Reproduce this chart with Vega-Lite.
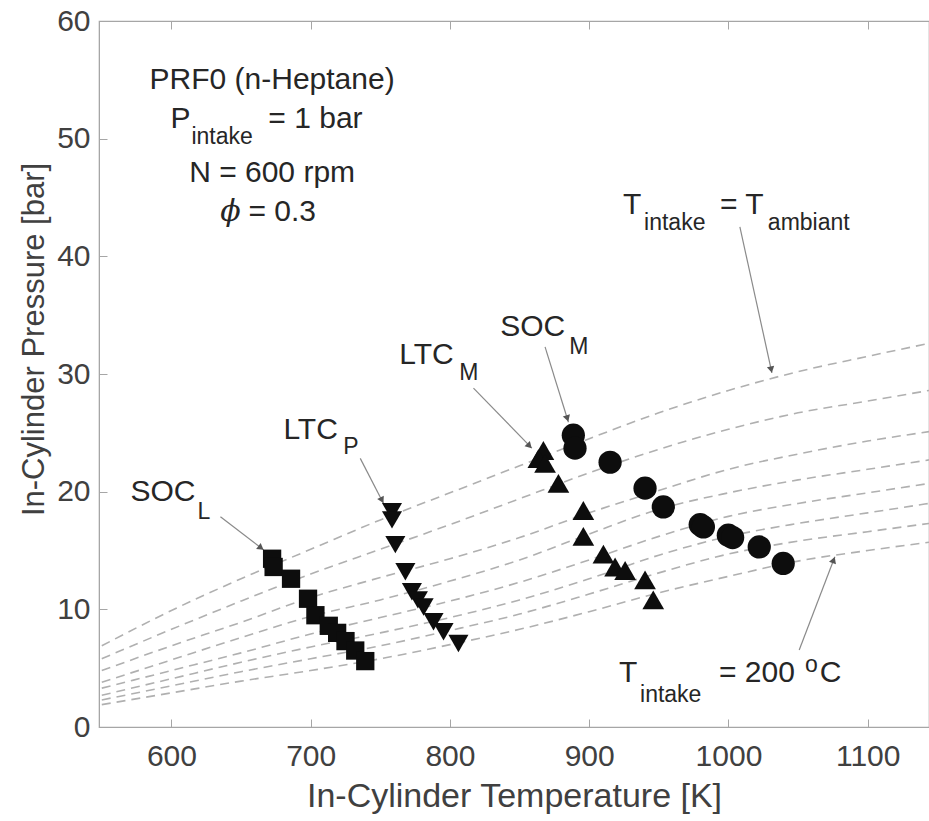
{
  "$schema": "https://vega.github.io/schema/vega-lite/v6.json",
  "width": 830,
  "height": 706,
  "autosize": {"type": "none"},
  "padding": {"left": 99, "top": 21, "right": 0, "bottom": 94},
  "background": "white",
  "config": {
    "font": "Liberation Sans",
    "view": {"stroke": "#a6a6a6", "strokeWidth": 1.2},
    "axis": {
      "grid": false,
      "domainColor": "#a6a6a6",
      "tickColor": "#a6a6a6",
      "labelColor": "#404040",
      "titleColor": "#404040",
      "labelFont": "Liberation Sans",
      "titleFont": "Liberation Sans",
      "titleFontWeight": "normal",
      "labelFontSize": 30,
      "titleFontSize": 32
    }
  },
  "datasets": {
    "curves": [
      {"c": 1, "T": 550, "P": 6.9}, {"c": 1, "T": 600, "P": 9.9}, {"c": 1, "T": 650, "P": 12.6}, {"c": 1, "T": 700, "P": 15.1}, {"c": 1, "T": 750, "P": 17.6}, {"c": 1, "T": 800, "P": 19.9}, {"c": 1, "T": 850, "P": 22.2}, {"c": 1, "T": 900, "P": 24.5}, {"c": 1, "T": 950, "P": 26.7}, {"c": 1, "T": 1000, "P": 28.6}, {"c": 1, "T": 1050, "P": 30.2}, {"c": 1, "T": 1100, "P": 31.5}, {"c": 1, "T": 1144, "P": 32.6},
      {"c": 2, "T": 550, "P": 5.8}, {"c": 2, "T": 600, "P": 8.3}, {"c": 2, "T": 650, "P": 10.7}, {"c": 2, "T": 700, "P": 13.0}, {"c": 2, "T": 750, "P": 15.1}, {"c": 2, "T": 800, "P": 17.2}, {"c": 2, "T": 850, "P": 19.4}, {"c": 2, "T": 900, "P": 21.6}, {"c": 2, "T": 950, "P": 23.6}, {"c": 2, "T": 1000, "P": 25.3}, {"c": 2, "T": 1050, "P": 26.7}, {"c": 2, "T": 1100, "P": 27.7}, {"c": 2, "T": 1144, "P": 28.6},
      {"c": 3, "T": 550, "P": 4.8}, {"c": 3, "T": 600, "P": 6.9}, {"c": 3, "T": 650, "P": 8.9}, {"c": 3, "T": 700, "P": 11.0}, {"c": 3, "T": 750, "P": 12.7}, {"c": 3, "T": 800, "P": 14.3}, {"c": 3, "T": 850, "P": 16.1}, {"c": 3, "T": 900, "P": 18.2}, {"c": 3, "T": 950, "P": 20.1}, {"c": 3, "T": 1000, "P": 21.9}, {"c": 3, "T": 1050, "P": 23.2}, {"c": 3, "T": 1100, "P": 24.3}, {"c": 3, "T": 1144, "P": 25.1},
      {"c": 4, "T": 550, "P": 3.8}, {"c": 4, "T": 600, "P": 5.7}, {"c": 4, "T": 650, "P": 7.6}, {"c": 4, "T": 700, "P": 9.4}, {"c": 4, "T": 750, "P": 10.8}, {"c": 4, "T": 800, "P": 12.4}, {"c": 4, "T": 850, "P": 14.2}, {"c": 4, "T": 900, "P": 16.4}, {"c": 4, "T": 950, "P": 18.5}, {"c": 4, "T": 1000, "P": 19.9}, {"c": 4, "T": 1050, "P": 21.0}, {"c": 4, "T": 1100, "P": 21.9}, {"c": 4, "T": 1144, "P": 22.7},
      {"c": 5, "T": 550, "P": 3.3}, {"c": 5, "T": 600, "P": 4.8}, {"c": 5, "T": 650, "P": 6.3}, {"c": 5, "T": 700, "P": 7.9}, {"c": 5, "T": 750, "P": 9.3}, {"c": 5, "T": 800, "P": 10.7}, {"c": 5, "T": 850, "P": 12.3}, {"c": 5, "T": 900, "P": 14.2}, {"c": 5, "T": 950, "P": 16.2}, {"c": 5, "T": 1000, "P": 17.9}, {"c": 5, "T": 1050, "P": 19.0}, {"c": 5, "T": 1100, "P": 19.9}, {"c": 5, "T": 1144, "P": 20.7},
      {"c": 6, "T": 550, "P": 2.7}, {"c": 6, "T": 600, "P": 4.1}, {"c": 6, "T": 650, "P": 5.5}, {"c": 6, "T": 700, "P": 6.8}, {"c": 6, "T": 750, "P": 8.0}, {"c": 6, "T": 800, "P": 9.3}, {"c": 6, "T": 850, "P": 10.8}, {"c": 6, "T": 900, "P": 12.6}, {"c": 6, "T": 950, "P": 14.6}, {"c": 6, "T": 1000, "P": 16.2}, {"c": 6, "T": 1050, "P": 17.3}, {"c": 6, "T": 1100, "P": 18.2}, {"c": 6, "T": 1144, "P": 19.0},
      {"c": 7, "T": 550, "P": 2.3}, {"c": 7, "T": 600, "P": 3.5}, {"c": 7, "T": 650, "P": 4.7}, {"c": 7, "T": 700, "P": 5.8}, {"c": 7, "T": 750, "P": 6.9}, {"c": 7, "T": 800, "P": 8.2}, {"c": 7, "T": 850, "P": 9.6}, {"c": 7, "T": 900, "P": 11.3}, {"c": 7, "T": 950, "P": 13.1}, {"c": 7, "T": 1000, "P": 14.7}, {"c": 7, "T": 1050, "P": 15.8}, {"c": 7, "T": 1100, "P": 16.6}, {"c": 7, "T": 1144, "P": 17.3},
      {"c": 8, "T": 550, "P": 1.9}, {"c": 8, "T": 600, "P": 2.9}, {"c": 8, "T": 650, "P": 3.9}, {"c": 8, "T": 700, "P": 4.8}, {"c": 8, "T": 750, "P": 5.8}, {"c": 8, "T": 800, "P": 7.0}, {"c": 8, "T": 850, "P": 8.3}, {"c": 8, "T": 900, "P": 9.8}, {"c": 8, "T": 950, "P": 11.4}, {"c": 8, "T": 1000, "P": 12.8}, {"c": 8, "T": 1050, "P": 14.1}, {"c": 8, "T": 1100, "P": 15.0}, {"c": 8, "T": 1144, "P": 15.7}
    ],
    "points": [
      {"g": "SOC_L", "T": 672.3, "P": 14.3}, {"g": "SOC_L", "T": 673.4, "P": 13.6}, {"g": "SOC_L", "T": 685.9, "P": 12.6}, {"g": "SOC_L", "T": 698.1, "P": 10.9}, {"g": "SOC_L", "T": 703.4, "P": 9.5}, {"g": "SOC_L", "T": 713.0, "P": 8.6}, {"g": "SOC_L", "T": 719.0, "P": 8.0}, {"g": "SOC_L", "T": 725.0, "P": 7.3}, {"g": "SOC_L", "T": 732.0, "P": 6.5}, {"g": "SOC_L", "T": 739.2, "P": 5.6},
      {"g": "LTC_P", "T": 758.4, "P": 18.3}, {"g": "LTC_P", "T": 758.4, "P": 17.6}, {"g": "LTC_P", "T": 760.8, "P": 15.5}, {"g": "LTC_P", "T": 768.0, "P": 13.2}, {"g": "LTC_P", "T": 772.7, "P": 11.5}, {"g": "LTC_P", "T": 777.0, "P": 10.8}, {"g": "LTC_P", "T": 781.1, "P": 10.2}, {"g": "LTC_P", "T": 788.2, "P": 8.95}, {"g": "LTC_P", "T": 795.4, "P": 8.1}, {"g": "LTC_P", "T": 806.1, "P": 7.1},
      {"g": "LTC_M", "T": 867.1, "P": 23.5}, {"g": "LTC_M", "T": 863.5, "P": 22.8}, {"g": "LTC_M", "T": 868.3, "P": 22.4}, {"g": "LTC_M", "T": 877.9, "P": 20.7}, {"g": "LTC_M", "T": 895.8, "P": 18.4}, {"g": "LTC_M", "T": 895.8, "P": 16.2}, {"g": "LTC_M", "T": 910.2, "P": 14.7}, {"g": "LTC_M", "T": 918.6, "P": 13.6}, {"g": "LTC_M", "T": 925.8, "P": 13.3}, {"g": "LTC_M", "T": 940.1, "P": 12.5}, {"g": "LTC_M", "T": 946.0, "P": 10.8},
      {"g": "SOC_M", "T": 888.6, "P": 24.8}, {"g": "SOC_M", "T": 889.8, "P": 23.7}, {"g": "SOC_M", "T": 915.0, "P": 22.5}, {"g": "SOC_M", "T": 940.1, "P": 20.3}, {"g": "SOC_M", "T": 953.2, "P": 18.7}, {"g": "SOC_M", "T": 979.7, "P": 17.2}, {"g": "SOC_M", "T": 982.0, "P": 17.0}, {"g": "SOC_M", "T": 999.9, "P": 16.3}, {"g": "SOC_M", "T": 1003.0, "P": 16.1}, {"g": "SOC_M", "T": 1022.1, "P": 15.3}, {"g": "SOC_M", "T": 1039.3, "P": 13.9}
    ],
    "arrows": [
      {"T": 635.2, "P": 17.87, "T2": 666.3, "P2": 15.04},
      {"T": 735.6, "P": 22.83, "T2": 752.3, "P2": 19.0},
      {"T": 816.9, "P": 28.8, "T2": 858.8, "P2": 23.7},
      {"T": 868.3, "P": 32.3, "T2": 885.1, "P2": 25.9},
      {"T": 1008.2, "P": 42.5, "T2": 1031.2, "P2": 30.1},
      {"T": 1050.8, "P": 6.54, "T2": 1076.4, "P2": 14.47}
    ],
    "txtL": [
      {"T": 599.3, "P": 51.7, "t": "P"},
      {"T": 669.6, "P": 51.7, "t": "= 1 bar"},
      {"T": 655.3, "P": 43.8, "t": "= 0.3"},
      {"T": 924.3, "P": 44.35, "t": "T"},
      {"T": 993.9, "P": 44.35, "t": "= T"},
      {"T": 921.4, "P": 4.59, "t": "T"},
      {"T": 993.2, "P": 4.59, "t": "= 200"},
      {"T": 1065.6, "P": 4.59, "t": "C"},
      {"T": 570.6, "P": 20.0, "t": "SOC"},
      {"T": 680.4, "P": 25.2, "t": "LTC"},
      {"T": 763.6, "P": 31.6, "t": "LTC"},
      {"T": 836.1, "P": 34.0, "t": "SOC"}
    ],
    "txtS": [
      {"T": 614.4, "P": 50.1, "t": "intake"},
      {"T": 939.4, "P": 42.8, "t": "intake"},
      {"T": 1028.3, "P": 42.8, "t": "ambiant"},
      {"T": 936.5, "P": 2.72, "t": "intake"},
      {"T": 1054.9, "P": 5.25, "t": "o"},
      {"T": 618.7, "P": 18.3, "t": "L"},
      {"T": 723.4, "P": 23.8, "t": "P"},
      {"T": 806.6, "P": 30.1, "t": "M"},
      {"T": 885.6, "P": 32.3, "t": "M"}
    ],
    "txtC": [
      {"T": 672.3, "P": 55.0, "t": "PRF0 (n-Heptane)"},
      {"T": 672.3, "P": 47.1, "t": "N = 600 rpm"}
    ],
    "txtI": [
      {"T": 642.4, "P": 43.8, "t": "ϕ"}
    ]
  },
  "layer": [
    {
      "data": {"name": "curves"},
      "mark": {"type": "line", "strokeDash": [9, 6], "color": "#b0b0b0", "strokeWidth": 1.6, "interpolate": "monotone"},
      "encoding": {
        "x": {"field": "T", "type": "quantitative", "scale": {"domain": [548, 1144], "nice": false, "zero": false},
          "axis": {"orient": "bottom", "title": "In-Cylinder Temperature [K]", "format": "d", "values": [600, 700, 800, 900, 1000, 1100], "tickSize": -8, "labelPadding": 22, "titlePadding": 8, "titleFontSize": 34, "labelFlush": false}},
        "y": {"field": "P", "type": "quantitative", "scale": {"domain": [0, 60], "nice": false},
          "axis": {"title": "In-Cylinder Pressure [bar]", "format": "d", "values": [0, 10, 20, 30, 40, 50, 60], "tickSize": -8, "labelPadding": 17, "titlePadding": 6, "titleFontSize": 31, "titleY": 318, "labelFlush": false}},
        "detail": {"field": "c", "type": "nominal"}
      }
    },
    {
      "data": {"name": "arrows"},
      "mark": {"type": "rule", "color": "#8a8a8a", "strokeWidth": 1.2},
      "encoding": {
        "x": {"field": "T", "type": "quantitative", "scale": {"domain": [548, 1144], "nice": false, "zero": false},
          "axis": {"orient": "top", "labels": false, "title": null, "domain": false, "values": [600, 700, 800, 900, 1000, 1100], "tickSize": -8}},
        "y": {"field": "P", "type": "quantitative", "scale": {"domain": [0, 60], "nice": false}},
        "x2": {"field": "T2"},
        "y2": {"field": "P2"}
      }
    },
    {
      "data": {"name": "points"},
      "mark": {"type": "point", "filled": true, "opacity": 1, "color": "#0d0d0d"},
      "encoding": {
        "x": {"field": "T", "type": "quantitative", "scale": {"domain": [548, 1144], "nice": false, "zero": false}, "axis": null},
        "y": {"field": "P", "type": "quantitative", "scale": {"domain": [0, 60], "nice": false}},
        "shape": {"field": "g", "type": "nominal", "scale": {"domain": ["SOC_L", "LTC_P", "LTC_M", "SOC_M"], "range": ["square", "triangle-down", "triangle-up", "circle"]}, "legend": null},
        "size": {"field": "g", "type": "nominal", "scale": {"domain": ["SOC_L", "LTC_P", "LTC_M", "SOC_M"], "range": [335, 540, 560, 470]}, "legend": null}
      }
    },
    {
      "data": {"values": [{"T": 664.3, "P": 15.22}]},
      "mark": {"type": "point", "shape": "triangle-up", "filled": true, "opacity": 1, "color": "#555555", "size": 55, "angle": 127.6},
      "encoding": {"x": {"field": "T", "type": "quantitative", "scale": {"domain": [548, 1144], "nice": false, "zero": false}, "axis": null}, "y": {"field": "P", "type": "quantitative", "scale": {"domain": [0, 60], "nice": false}}}
    },
    {
      "data": {"values": [{"T": 751.2, "P": 19.27}]},
      "mark": {"type": "point", "shape": "triangle-up", "filled": true, "opacity": 1, "color": "#555555", "size": 55, "angle": 152.6},
      "encoding": {"x": {"field": "T", "type": "quantitative", "scale": {"domain": [548, 1144], "nice": false, "zero": false}, "axis": null}, "y": {"field": "P", "type": "quantitative", "scale": {"domain": [0, 60], "nice": false}}}
    },
    {
      "data": {"values": [{"T": 857.1, "P": 23.89}]},
      "mark": {"type": "point", "shape": "triangle-up", "filled": true, "opacity": 1, "color": "#555555", "size": 55, "angle": 135.8},
      "encoding": {"x": {"field": "T", "type": "quantitative", "scale": {"domain": [548, 1144], "nice": false, "zero": false}, "axis": null}, "y": {"field": "P", "type": "quantitative", "scale": {"domain": [0, 60], "nice": false}}}
    },
    {
      "data": {"values": [{"T": 884.3, "P": 26.22}]},
      "mark": {"type": "point", "shape": "triangle-up", "filled": true, "opacity": 1, "color": "#555555", "size": 55, "angle": 162.7},
      "encoding": {"x": {"field": "T", "type": "quantitative", "scale": {"domain": [548, 1144], "nice": false, "zero": false}, "axis": null}, "y": {"field": "P", "type": "quantitative", "scale": {"domain": [0, 60], "nice": false}}}
    },
    {
      "data": {"values": [{"T": 1030.7, "P": 30.37}]},
      "mark": {"type": "point", "shape": "triangle-up", "filled": true, "opacity": 1, "color": "#555555", "size": 55, "angle": 167.7},
      "encoding": {"x": {"field": "T", "type": "quantitative", "scale": {"domain": [548, 1144], "nice": false, "zero": false}, "axis": null}, "y": {"field": "P", "type": "quantitative", "scale": {"domain": [0, 60], "nice": false}}}
    },
    {
      "data": {"values": [{"T": 1075.5, "P": 14.19}]},
      "mark": {"type": "point", "shape": "triangle-up", "filled": true, "opacity": 1, "color": "#555555", "size": 55, "angle": 20.7},
      "encoding": {"x": {"field": "T", "type": "quantitative", "scale": {"domain": [548, 1144], "nice": false, "zero": false}, "axis": null}, "y": {"field": "P", "type": "quantitative", "scale": {"domain": [0, 60], "nice": false}}}
    },
    {
      "data": {"name": "txtL"},
      "mark": {"type": "text", "align": "left", "baseline": "middle", "fontSize": 30, "color": "#262626", "font": "Liberation Sans"},
      "encoding": {"x": {"field": "T", "type": "quantitative", "scale": {"domain": [548, 1144], "nice": false, "zero": false}, "axis": null}, "y": {"field": "P", "type": "quantitative", "scale": {"domain": [0, 60], "nice": false}}, "text": {"field": "t"}}
    },
    {
      "data": {"name": "txtS"},
      "mark": {"type": "text", "align": "left", "baseline": "middle", "fontSize": 23, "color": "#262626", "font": "Liberation Sans"},
      "encoding": {"x": {"field": "T", "type": "quantitative", "scale": {"domain": [548, 1144], "nice": false, "zero": false}, "axis": null}, "y": {"field": "P", "type": "quantitative", "scale": {"domain": [0, 60], "nice": false}}, "text": {"field": "t"}}
    },
    {
      "data": {"name": "txtC"},
      "mark": {"type": "text", "align": "center", "baseline": "middle", "fontSize": 30, "color": "#262626", "font": "Liberation Sans"},
      "encoding": {"x": {"field": "T", "type": "quantitative", "scale": {"domain": [548, 1144], "nice": false, "zero": false}, "axis": null}, "y": {"field": "P", "type": "quantitative", "scale": {"domain": [0, 60], "nice": false}}, "text": {"field": "t"}}
    },
    {
      "data": {"name": "txtI"},
      "mark": {"type": "text", "align": "center", "baseline": "middle", "fontSize": 30, "fontStyle": "italic", "color": "#262626", "font": "DejaVu Serif"},
      "encoding": {"x": {"field": "T", "type": "quantitative", "scale": {"domain": [548, 1144], "nice": false, "zero": false}, "axis": null}, "y": {"field": "P", "type": "quantitative", "scale": {"domain": [0, 60], "nice": false}}, "text": {"field": "t"}}
    }
  ],
  "resolve": {"axis": {"x": "independent"}}
}
